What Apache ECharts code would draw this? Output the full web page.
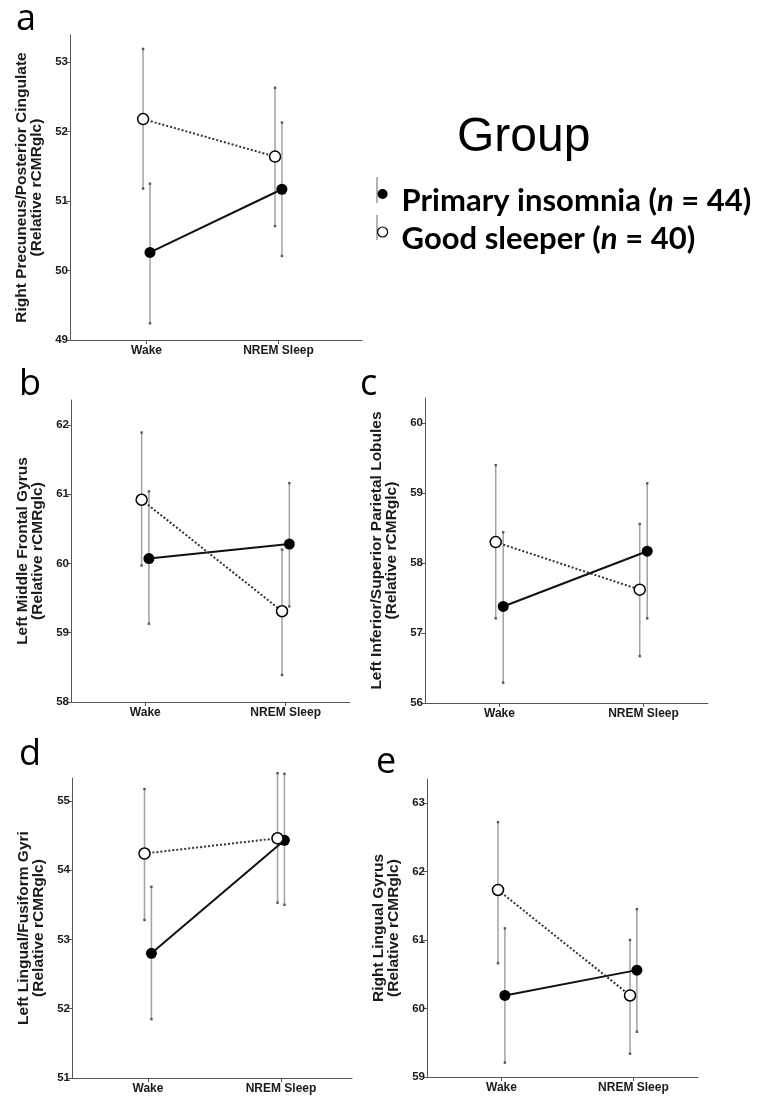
<!DOCTYPE html>
<html>
<head>
<meta charset="utf-8">
<script src="https://cdn.jsdelivr.net/npm/echarts@6/dist/echarts.min.js"></script>
<style>
  html, body { margin: 0; padding: 0; background: #fff; }
  #chart { width: 774px; height: 1099px; }
</style>
</head>
<body>
<div id="chart"></div>
<script>
// ---------------- DATA ----------------
const categories = ['Wake', 'NREM Sleep'];
const panelLetters = ['a', 'b', 'c', 'd', 'e'];
const regionTitles = [
  'Right Precuneus/Posterior Cingulate',
  'Left Middle Frontal Gyrus',
  'Left Inferior/Superior Parietal Lobules',
  'Left Lingual/Fusiform Gyri',
  'Right Lingual Gyrus'
];
const unitTitle = '(Relative rCMRglc)';
const yTicks = [
  [49, 50, 51, 52, 53],
  [58, 59, 60, 61, 62],
  [56, 57, 58, 59, 60],
  [51, 52, 53, 54, 55],
  [59, 60, 61, 62, 63]
];
const groupNames = ['Primary insomnia', 'Good sleeper'];
const groupN = [44, 40];
// per panel: [Wake, NREM Sleep]
const insomniaMean = [[50.26, 51.17], [60.07, 60.28], [57.38, 58.17], [52.80, 54.43], [60.19, 60.56]];
const insomniaLow  = [[49.24, 50.21], [59.13, 59.38], [56.29, 57.21], [51.85, 53.50], [59.21, 59.66]];
const insomniaHigh = [[51.25, 52.13], [61.04, 61.16], [58.44, 59.14], [53.76, 55.39], [61.17, 61.45]];
const goodMean = [[52.18, 51.64], [60.92, 59.31], [58.30, 57.62], [54.24, 54.46], [61.73, 60.19]];
const goodLow  = [[51.18, 50.64], [59.97, 58.39], [57.21, 56.67], [53.28, 53.53], [60.66, 59.34]];
const goodHigh = [[53.19, 52.63], [61.89, 60.20], [59.40, 58.56], [55.17, 55.40], [62.72, 61.00]];

// ---------------- LAYOUT ----------------
const layout = [
  { left: 70,  top: 35,  width: 292, height: 305, xMin: 0.420, xMax: 2.633, yMax: 53.39, lx: 16,  ly: 2 },
  { left: 71,  top: 400, width: 279, height: 302, xMin: 0.471, xMax: 2.458, yMax: 62.36, lx: 19,  ly: 367 },
  { left: 425, top: 398, width: 283, height: 305, xMin: 0.483, xMax: 2.448, yMax: 60.36, lx: 360, ly: 367 },
  { left: 72,  top: 778, width: 280, height: 300, xMin: 0.429, xMax: 2.534, yMax: 55.33, lx: 19,  ly: 737 },
  { left: 427, top: 779, width: 271, height: 298, xMin: 0.436, xMax: 2.489, yMax: 63.35, lx: 376, ly: 745 }
];
const dodge = [0.026, -0.026]; // insomnia, good sleeper
const catX = [1, 2];

const seriesName = i => `${groupNames[i]} (n = ${groupN[i]})`;

const axisColor = '#555';
const tickFont = { fontFamily: 'Liberation Sans, Arial, sans-serif', fontSize: 11.5, fontWeight: 'bold', color: '#1a1a1a' };

function errorRender(params, api) {
  const x = api.value(0), lo = api.value(1), hi = api.value(2);
  const pLo = api.coord([x, lo]);
  const pHi = api.coord([x, hi]);
  return {
    type: 'group',
    children: [
      { type: 'line', shape: { x1: pLo[0], y1: pLo[1], x2: pHi[0], y2: pHi[1] }, style: { stroke: '#a2a2a2', lineWidth: 1.5 } },
      { type: 'rect', shape: { x: pLo[0] - 1.2, y: pLo[1] - 1.2, width: 2.4, height: 2.4 }, style: { fill: '#555' } },
      { type: 'rect', shape: { x: pHi[0] - 1.2, y: pHi[1] - 1.2, width: 2.4, height: 2.4 }, style: { fill: '#555' } }
    ]
  };
}

const grids = [], xAxes = [], yAxes = [], series = [], titles = [];

layout.forEach((L, p) => {
  grids.push({ left: L.left, top: L.top, width: L.width, height: L.height, containLabel: false });
  xAxes.push({
    type: 'value', gridIndex: p, min: L.xMin, max: L.xMax,
    splitLine: { show: false },
    axisLine: { show: true, lineStyle: { color: axisColor, width: 1 } },
    axisTick: { show: true, customValues: catX, length: 4, lineStyle: { color: axisColor } },
    axisLabel: { customValues: catX, margin: 5, formatter: v => categories[Math.round(v) - 1], ...tickFont, fontSize: 12 }
  });
  yAxes.push({
    type: 'value', gridIndex: p, min: yTicks[p][0], max: L.yMax,
    splitLine: { show: false },
    axisLine: { show: true, onZero: false, lineStyle: { color: axisColor, width: 1 } },
    axisTick: { show: true, customValues: yTicks[p], length: 4, lineStyle: { color: axisColor } },
    axisLabel: { customValues: yTicks[p], margin: 2, ...tickFont },
    name: regionTitles[p] + '\n' + unitTitle,
    nameLocation: 'middle', nameRotate: 90, nameGap: 26,
    nameTextStyle: { fontFamily: 'Liberation Sans, Arial, sans-serif', fontSize: 15.5, fontWeight: 'bold', color: '#1a1a1a', lineHeight: 15 }
  });
  titles.push({
    text: panelLetters[p], left: L.lx, top: L.ly, padding: 0,
    textStyle: { fontFamily: 'Open Sans, sans-serif', fontSize: 36, fontWeight: 'normal', color: '#000' }
  });

  const groups = [
    { mean: insomniaMean[p], low: insomniaLow[p], high: insomniaHigh[p] },
    { mean: goodMean[p], low: goodLow[p], high: goodHigh[p] }
  ];
  // error bars first
  groups.forEach((g, gi) => {
    series.push({
      name: seriesName(gi), type: 'custom', xAxisIndex: p, yAxisIndex: p, z: 1,
      renderItem: errorRender, silent: true,
      encode: { x: 0, y: [1, 2] },
      data: catX.map((c, k) => [c + dodge[gi], g.low[k], g.high[k]])
    });
  });
  // lines with markers
  groups.forEach((g, gi) => {
    series.push({
      name: seriesName(gi), type: 'line', xAxisIndex: p, yAxisIndex: p, z: 3 + gi,
      symbol: 'circle', symbolSize: 11, showSymbol: true,
      lineStyle: gi === 0 ? { color: '#111', width: 2, type: 'solid' } : { color: '#333', width: 2, type: [2, 2] },
      itemStyle: gi === 0 ? { color: '#000', borderColor: '#000', borderWidth: 0 } : { color: '#fff', borderColor: '#000', borderWidth: 1.5 },
      emphasis: { disabled: true },
      data: catX.map((c, k) => [c + dodge[gi], g.mean[k]])
    });
  });
});

titles.push({
  text: 'Group', left: 457, top: 114, padding: 0,
  textStyle: { fontFamily: 'Liberation Sans, Arial, sans-serif', fontSize: 48, fontWeight: 'normal', color: '#000' }
});

const legendFont = { fontFamily: 'Lato, Open Sans, sans-serif', fontWeight: 'bold', fontSize: 31, color: '#000', lineHeight: 38 };
// circle at top of the icon box, invisible point below it so the circle sits above the text centre
const iconPath = 'path://M5,0A5,5,0,1,1,5,10A5,5,0,1,1,5,0ZM5,24L5,24';

const option = {
  animation: false,
  backgroundColor: '#fff',
  title: titles,
  grid: grids,
  xAxis: xAxes,
  yAxis: yAxes,
  legend: {
    orient: 'vertical', left: 372, top: 177, itemGap: 0, itemWidth: 10, itemHeight: 24,
    selectedMode: false,
    data: [
      { name: seriesName(0), icon: iconPath, itemStyle: { color: '#000', borderWidth: 0 } },
      { name: seriesName(1), icon: iconPath, itemStyle: { color: '#fff', borderColor: '#000', borderWidth: 1.2 } }
    ],
    formatter: name => {
      const i = name === seriesName(0) ? 0 : 1;
      return `{s|}{b|${groupNames[i]} (}{i|n}{b| = ${groupN[i]})}`;
    },
    textStyle: {
      ...legendFont,
      rich: {
        s: { width: 9 },
        b: { ...legendFont },
        i: { ...legendFont, fontStyle: 'italic' }
      }
    }
  },
  graphic: [
    { type: 'line', shape: { x1: 377, y1: 177, x2: 377, y2: 203 }, style: { stroke: '#999', lineWidth: 1.5 }, z: 0 },
    { type: 'line', shape: { x1: 377, y1: 215, x2: 377, y2: 240 }, style: { stroke: '#999', lineWidth: 1.5 }, z: 0 }
  ],
  series: series
};

const chart = echarts.init(document.getElementById('chart'), null, { renderer: 'canvas' });
chart.setOption(option);
</script>
</body>
</html>
